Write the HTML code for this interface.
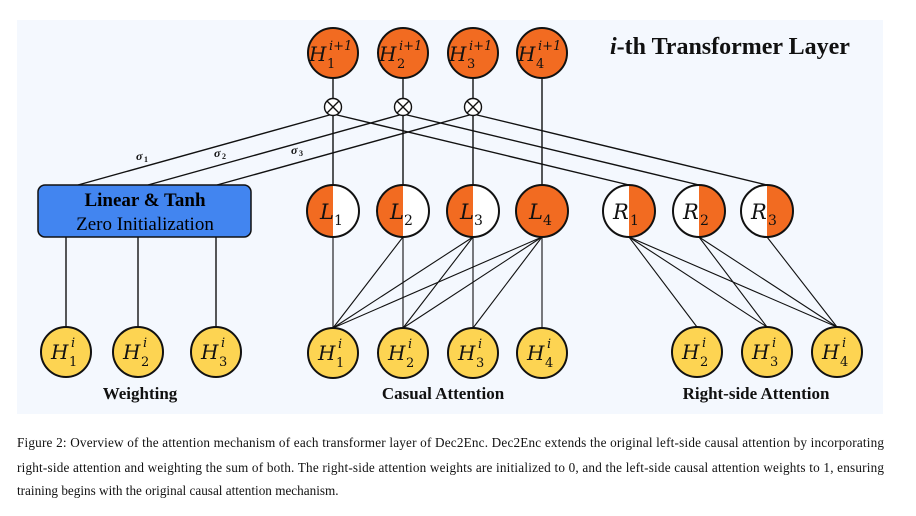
<!DOCTYPE html>
<html><head><meta charset="utf-8"><style>
html,body{margin:0;padding:0;background:#fff;}
svg{display:block;}
.m{font-family:"DejaVu Serif","Liberation Serif",serif;font-style:italic;}
.b{font-family:"Liberation Serif",serif;font-weight:bold;}
.n{font-family:"DejaVu Serif","Liberation Serif",serif;}
</style></head><body>
<svg width="916" height="516" viewBox="0 0 916 516" xmlns="http://www.w3.org/2000/svg">
<rect x="17" y="20" width="866" height="394" fill="#f4f8fe"/>
<g stroke="#111" stroke-width="1.4" fill="none">
<line x1="333" y1="78" x2="333" y2="185"/>
<line x1="403" y1="78" x2="403" y2="185"/>
<line x1="473" y1="78" x2="473" y2="185"/>
<line x1="542" y1="78" x2="542" y2="185"/>
<line x1="78" y1="185" x2="333" y2="114"/>
<line x1="148" y1="185" x2="403" y2="114"/>
<line x1="217" y1="185" x2="473" y2="114"/>
<line x1="333" y1="114" x2="629" y2="185"/>
<line x1="403" y1="114" x2="699" y2="185"/>
<line x1="473" y1="114" x2="767" y2="185"/>
<line x1="66" y1="237" x2="66" y2="327"/>
<line x1="138" y1="237" x2="138" y2="327"/>
<line x1="216" y1="237" x2="216" y2="327"/>
</g>
<g stroke="#111" stroke-width="1.1">
<line x1="333" y1="237" x2="333" y2="328"/>
<line x1="403" y1="237" x2="333" y2="328"/><line x1="403" y1="237" x2="403" y2="328"/>
<line x1="473" y1="237" x2="333" y2="328"/><line x1="473" y1="237" x2="403" y2="328"/><line x1="473" y1="237" x2="473" y2="328"/>
<line x1="542" y1="237" x2="333" y2="328"/><line x1="542" y1="237" x2="403" y2="328"/><line x1="542" y1="237" x2="473" y2="328"/><line x1="542" y1="237" x2="542" y2="328"/>
<line x1="629" y1="237" x2="697" y2="327"/><line x1="629" y1="237" x2="767" y2="327"/><line x1="629" y1="237" x2="837" y2="327"/>
<line x1="699" y1="237" x2="767" y2="327"/><line x1="699" y1="237" x2="837" y2="327"/>
<line x1="767" y1="237" x2="837" y2="327"/>
</g>
<g class="b" font-size="12" fill="#111">
<text x="136" y="160" font-style="italic">σ</text><text x="144" y="162" font-size="8">1</text>
<text x="214" y="157" font-style="italic">σ</text><text x="222" y="159" font-size="8">2</text>
<text x="291" y="154" font-style="italic">σ</text><text x="299" y="156" font-size="8">3</text>
</g>
<rect x="38" y="185" width="213" height="52" rx="7" fill="#4285f0" stroke="#111" stroke-width="1.5"/>
<text x="145" y="206" text-anchor="middle" class="b" font-size="19">Linear &amp; Tanh</text>
<text x="145" y="230" text-anchor="middle" font-family="Liberation Serif,serif" font-size="19">Zero Initialization</text>
<g stroke="#111" stroke-width="2" fill="#f26b21">
<circle cx="333" cy="53" r="25"/><circle cx="403" cy="53" r="25"/><circle cx="473" cy="53" r="25"/><circle cx="542" cy="53" r="25"/>
</g>
<g fill="#111">
<text class="m" x="309" y="61" font-size="20">H</text><text class="m" x="329" y="50" font-size="13">i+1</text><text class="n" x="327" y="68" font-size="13">1</text>
<text class="m" x="379" y="61" font-size="20">H</text><text class="m" x="399" y="50" font-size="13">i+1</text><text class="n" x="397" y="68" font-size="13">2</text>
<text class="m" x="449" y="61" font-size="20">H</text><text class="m" x="469" y="50" font-size="13">i+1</text><text class="n" x="467" y="68" font-size="13">3</text>
<text class="m" x="518" y="61" font-size="20">H</text><text class="m" x="538" y="50" font-size="13">i+1</text><text class="n" x="536" y="68" font-size="13">4</text>
</g>
<g stroke="#111" stroke-width="1.4" fill="#fff">
<circle cx="333" cy="107" r="8.5"/><circle cx="403" cy="107" r="8.5"/><circle cx="473" cy="107" r="8.5"/>
<path d="M327 101l12 12M339 101l-12 12M397 101l12 12M409 101l-12 12M467 101l12 12M479 101l-12 12" fill="none"/>
</g>
<g stroke="#111" stroke-width="2">
<path d="M333 185a26 26 0 0 0 0 52z" fill="#f26b21" stroke="none"/><path d="M333 185a26 26 0 0 1 0 52z" fill="#fff" stroke="none"/><circle cx="333" cy="211" r="26" fill="none"/>
<path d="M403 185a26 26 0 0 0 0 52z" fill="#f26b21" stroke="none"/><path d="M403 185a26 26 0 0 1 0 52z" fill="#fff" stroke="none"/><circle cx="403" cy="211" r="26" fill="none"/>
<path d="M473 185a26 26 0 0 0 0 52z" fill="#f26b21" stroke="none"/><path d="M473 185a26 26 0 0 1 0 52z" fill="#fff" stroke="none"/><circle cx="473" cy="211" r="26" fill="none"/>
<circle cx="542" cy="211" r="26" fill="#f26b21"/>
<path d="M629 185a26 26 0 0 1 0 52z" fill="#f26b21" stroke="none"/><path d="M629 185a26 26 0 0 0 0 52z" fill="#fff" stroke="none"/><circle cx="629" cy="211" r="26" fill="none"/>
<path d="M699 185a26 26 0 0 1 0 52z" fill="#f26b21" stroke="none"/><path d="M699 185a26 26 0 0 0 0 52z" fill="#fff" stroke="none"/><circle cx="699" cy="211" r="26" fill="none"/>
<path d="M767 185a26 26 0 0 1 0 52z" fill="#f26b21" stroke="none"/><path d="M767 185a26 26 0 0 0 0 52z" fill="#fff" stroke="none"/><circle cx="767" cy="211" r="26" fill="none"/>
</g>
<g fill="#111">
<text class="m" x="320" y="219" font-size="21">L</text><text class="n" x="334" y="225" font-size="14">1</text>
<text class="m" x="390" y="219" font-size="21">L</text><text class="n" x="404" y="225" font-size="14">2</text>
<text class="m" x="460" y="219" font-size="21">L</text><text class="n" x="474" y="225" font-size="14">3</text>
<text class="m" x="529" y="219" font-size="21">L</text><text class="n" x="543" y="225" font-size="14">4</text>
<text class="m" x="613" y="219" font-size="21">R</text><text class="n" x="630" y="225" font-size="14">1</text>
<text class="m" x="683" y="219" font-size="21">R</text><text class="n" x="700" y="225" font-size="14">2</text>
<text class="m" x="751" y="219" font-size="21">R</text><text class="n" x="768" y="225" font-size="14">3</text>
</g>
<g stroke="#111" stroke-width="2" fill="#fdd452">
<circle cx="66" cy="352" r="25"/><circle cx="138" cy="352" r="25"/><circle cx="216" cy="352" r="25"/>
<circle cx="333" cy="353" r="25"/><circle cx="403" cy="353" r="25"/><circle cx="473" cy="353" r="25"/><circle cx="542" cy="353" r="25"/>
<circle cx="697" cy="352" r="25"/><circle cx="767" cy="352" r="25"/><circle cx="837" cy="352" r="25"/>
</g>
<g fill="#111">
<text class="m" x="51" y="359" font-size="20">H</text><text class="m" x="71" y="347" font-size="13">i</text><text class="n" x="69" y="366" font-size="13">1</text>
<text class="m" x="123" y="359" font-size="20">H</text><text class="m" x="143" y="347" font-size="13">i</text><text class="n" x="141" y="366" font-size="13">2</text>
<text class="m" x="201" y="359" font-size="20">H</text><text class="m" x="221" y="347" font-size="13">i</text><text class="n" x="219" y="366" font-size="13">3</text>
<text class="m" x="318" y="360" font-size="20">H</text><text class="m" x="338" y="348" font-size="13">i</text><text class="n" x="336" y="367" font-size="13">1</text>
<text class="m" x="388" y="360" font-size="20">H</text><text class="m" x="408" y="348" font-size="13">i</text><text class="n" x="406" y="367" font-size="13">2</text>
<text class="m" x="458" y="360" font-size="20">H</text><text class="m" x="478" y="348" font-size="13">i</text><text class="n" x="476" y="367" font-size="13">3</text>
<text class="m" x="527" y="360" font-size="20">H</text><text class="m" x="547" y="348" font-size="13">i</text><text class="n" x="545" y="367" font-size="13">4</text>
<text class="m" x="682" y="359" font-size="20">H</text><text class="m" x="702" y="347" font-size="13">i</text><text class="n" x="700" y="366" font-size="13">2</text>
<text class="m" x="752" y="359" font-size="20">H</text><text class="m" x="772" y="347" font-size="13">i</text><text class="n" x="770" y="366" font-size="13">3</text>
<text class="m" x="822" y="359" font-size="20">H</text><text class="m" x="842" y="347" font-size="13">i</text><text class="n" x="840" y="366" font-size="13">4</text>
</g>
<g class="b" font-size="17" fill="#111" text-anchor="middle">
<text x="140" y="399">Weighting</text>
<text x="443" y="399">Casual Attention</text>
<text x="756" y="399">Right-side Attention</text>
</g>
<text x="610" y="54" class="b" font-size="24" fill="#111"><tspan font-style="italic">i</tspan>-th Transformer Layer</text>
<g font-family="Liberation Serif,serif" font-size="13.2" fill="#111">
<text x="17" y="447" textLength="867" lengthAdjust="spacing">Figure 2: Overview of the attention mechanism of each transformer layer of Dec2Enc. Dec2Enc extends the original left-side causal attention by incorporating</text>
<text x="17" y="472" textLength="867" lengthAdjust="spacing">right-side attention and weighting the sum of both. The right-side attention weights are initialized to 0, and the left-side causal attention weights to 1, ensuring</text>
<text x="17" y="495">training begins with the original causal attention mechanism.</text>
</g>
</svg>
</body></html>
